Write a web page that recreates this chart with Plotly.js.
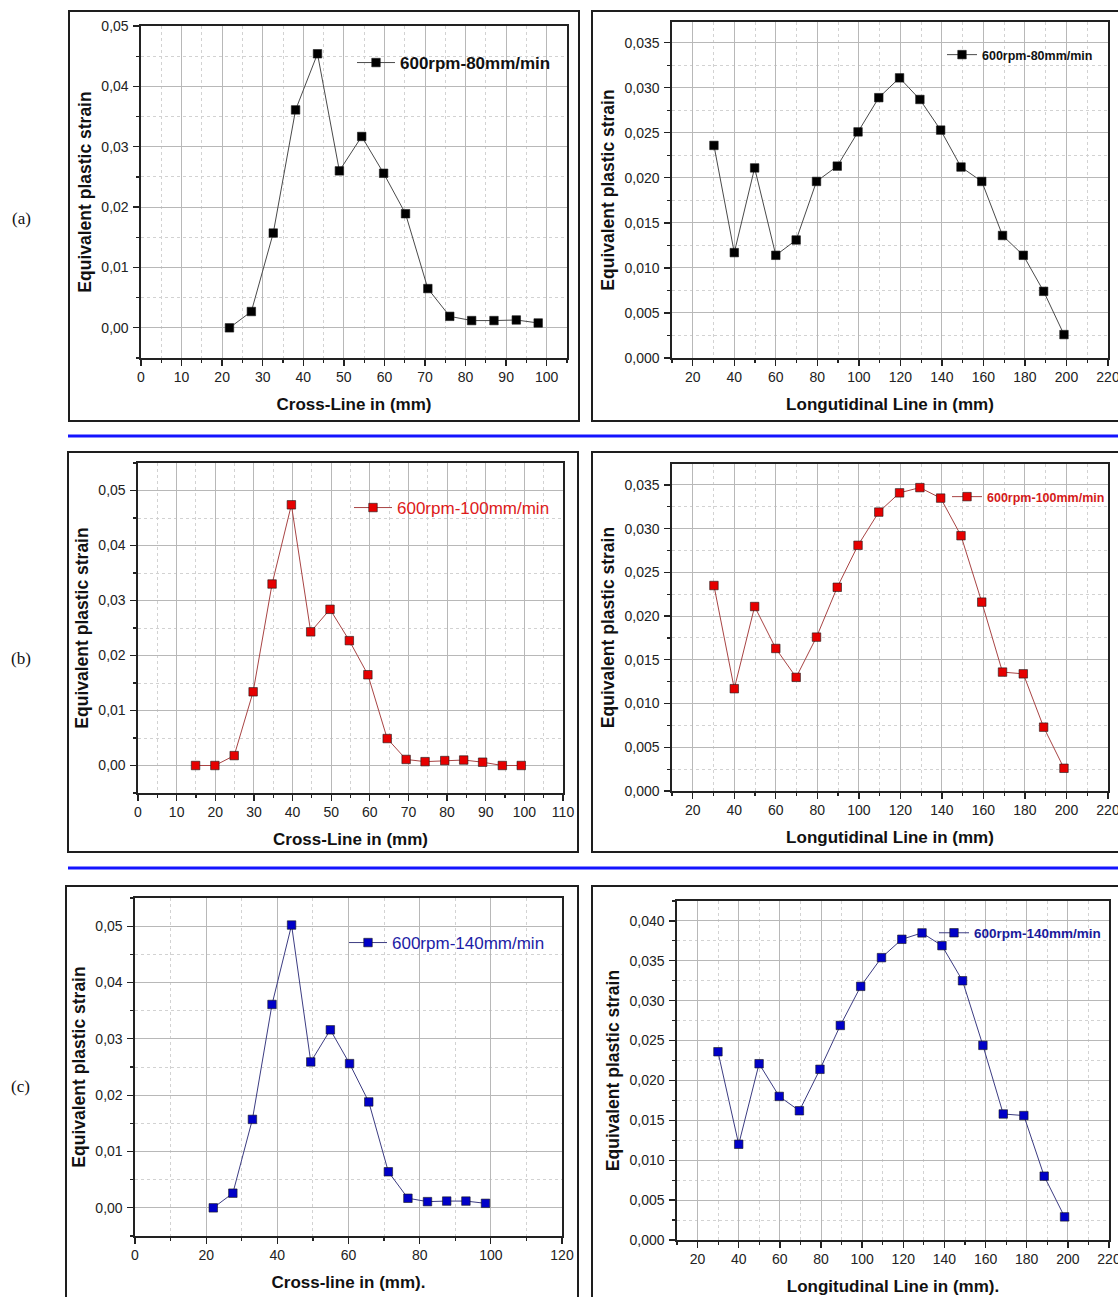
<!DOCTYPE html>
<html><head><meta charset="utf-8">
<script src="https://cdn.plot.ly/plotly-3.0.1.min.js"></script>
<style>html,body{margin:0;padding:0;background:#fff;} #chart{width:1118px;height:1297px;}</style>
</head><body><div id="chart"></div>
<script>
// ---------------- data ----------------
const crossA_x = [21.8, 27.2, 32.6, 38.1, 43.5, 48.9, 54.4, 59.8, 65.2, 70.7, 76.1, 81.5, 87.0, 92.5, 97.9];
const crossA_y = [0.0000, 0.0027, 0.0157, 0.0361, 0.0454, 0.0260, 0.0317, 0.0256, 0.0189, 0.0065, 0.0019, 0.0012, 0.0012, 0.0013, 0.0008];

const longA_x = [30.2, 40.0, 49.8, 60.0, 69.8, 79.6, 89.6, 99.6, 109.6, 119.6, 129.4, 139.4, 149.2, 159.2, 169.2, 179.2, 189.0, 198.8];
const longA_y = [0.0236, 0.0117, 0.0211, 0.0114, 0.0131, 0.0196, 0.0213, 0.0251, 0.0289, 0.0311, 0.0287, 0.0253, 0.0212, 0.0196, 0.0136, 0.0114, 0.0074, 0.0026];

const crossB_x = [14.9, 19.9, 24.9, 29.8, 34.7, 39.7, 44.7, 49.7, 54.7, 59.5, 64.5, 69.4, 74.3, 79.4, 84.3, 89.2, 94.3, 99.2];
const crossB_y = [0.0000, 0.0000, 0.0018, 0.0134, 0.0330, 0.0474, 0.0243, 0.0284, 0.0227, 0.0165, 0.0049, 0.0011, 0.0007, 0.0009, 0.0010, 0.0006, 0.0000, 0.0000];

const longB_x = [30.2, 40.0, 49.8, 60.0, 69.8, 79.6, 89.6, 99.6, 109.6, 119.6, 129.4, 139.4, 149.2, 159.2, 169.2, 179.2, 189.0, 198.8];
const longB_y = [0.0235, 0.0117, 0.0211, 0.0163, 0.0130, 0.0176, 0.0233, 0.0281, 0.0319, 0.0341, 0.0347, 0.0335, 0.0292, 0.0216, 0.0136, 0.0134, 0.0073, 0.0026];

const crossC_x = [22.0, 27.5, 33.0, 38.5, 44.0, 49.4, 54.9, 60.3, 65.7, 71.2, 76.7, 82.2, 87.6, 93.0, 98.5];
const crossC_y = [0.0000, 0.0026, 0.0157, 0.0361, 0.0502, 0.0259, 0.0316, 0.0256, 0.0188, 0.0064, 0.0017, 0.0011, 0.0012, 0.0012, 0.0008];

const longC_x = [29.9, 40.0, 49.9, 59.7, 69.5, 79.5, 89.4, 99.3, 109.4, 119.3, 129.1, 138.8, 148.8, 158.7, 168.6, 178.6, 188.5, 198.4];
const longC_y = [0.0236, 0.0120, 0.0221, 0.0180, 0.0162, 0.0214, 0.0269, 0.0318, 0.0354, 0.0377, 0.0385, 0.0369, 0.0325, 0.0244, 0.0158, 0.0156, 0.0080, 0.0029];

const seriesNames = ['600rpm-80mm/min', '600rpm-80mm/min', '600rpm-100mm/min', '600rpm-100mm/min', '600rpm-140mm/min', '600rpm-140mm/min'];
const xTitles = ['Cross-Line in (mm)', 'Longutidinal Line in (mm)', 'Cross-Line in (mm)', 'Longutidinal Line in (mm)', 'Cross-line in (mm).', 'Longitudinal Line in (mm).'];
const yTitle = 'Equivalent plastic strain';
const panelLabels = ['(a)', '(b)', '(c)'];

// ---------------- layout helpers ----------------
const W = 1118, H = 1297;
const FONT = 'Liberation Sans, Arial, sans-serif';
const fx = px => px / W;
const fy = py => 1 - py / H;

const panels = [
  {x: crossA_x, y: crossA_y, l:141, r:567, t:26, b:358, xr:[0,105], yr:[-0.005,0.05], xd:10, xm:5, yd:0.01, ym:0.005, yf:'.2f',
   mk:'#000000', ln:'#4a4a4a', leg:{x:352, y:63, size:17, bold:true, color:'#111', iw:38}},
  {x: longA_x, y: longA_y, l:672, r:1108, t:22, b:358, xr:[10,220], yr:[0,0.0373], xd:20, xm:10, yd:0.005, ym:0.0025, yf:'.3f',
   mk:'#000000', ln:'#4a4a4a', leg:{x:942, y:55, size:12.5, bold:true, color:'#111', iw:30}},
  {x: crossB_x, y: crossB_y, l:138, r:563, t:463, b:793, xr:[0,110], yr:[-0.005,0.055], xd:10, xm:5, yd:0.01, ym:0.005, yf:'.2f',
   mk:'#e60000', ln:'#a84444', leg:{x:349, y:508, size:17, bold:false, color:'#dd1a1a', iw:38}},
  {x: longB_x, y: longB_y, l:672, r:1108, t:464, b:791, xr:[10,220], yr:[0,0.0374], xd:20, xm:10, yd:0.005, ym:0.0025, yf:'.3f',
   mk:'#e60000', ln:'#a84444', leg:{x:947, y:497, size:12.5, bold:true, color:'#d41a1a', iw:30}},
  {x: crossC_x, y: crossC_y, l:135, r:562, t:898, b:1236, xr:[0,120], yr:[-0.005,0.055], xd:20, xm:10, yd:0.01, ym:0.005, yf:'.2f',
   mk:'#0000c8', ln:'#3c3c82', leg:{x:344, y:943, size:17, bold:false, color:'#1c1ca6', iw:38}},
  {x: longC_x, y: longC_y, l:677, r:1109, t:901, b:1240, xr:[10,220], yr:[0,0.0425], xd:20, xm:10, yd:0.005, ym:0.0025, yf:'.3f',
   mk:'#0000c8', ln:'#3c3c82', leg:{x:934, y:933, size:13.5, bold:true, color:'#1a1a9a', iw:30}}
];

const traces = [];
const layout = {
  width: W, height: H,
  margin: {l:0, r:0, t:0, b:0},
  paper_bgcolor: '#ffffff', plot_bgcolor: '#ffffff',
  separators: ', ',
  font: {family: FONT, color: '#222'},
  showlegend: true,
  shapes: [], annotations: []
};

const axId = (n) => n === 1 ? '' : String(n);

panels.forEach((p, i) => {
  const n = i + 1;
  const top = n + 6;
  const legName = n === 1 ? 'legend' : 'legend' + n;
  traces.push({
    type: 'scatter', mode: 'lines+markers',
    x: p.x, y: p.y, name: seriesNames[i],
    xaxis: 'x' + axId(n), yaxis: 'y' + axId(n),
    legend: legName,
    line: {color: p.ln, width: 1},
    marker: {symbol: 'square', size: 8.5, color: p.mk, line: {color: '#1a1a1a', width: 0.6}},
    hoverinfo: 'skip'
  });

  const tickfont = {family: FONT, size: 14, color: '#222'};
  const titlefont = {family: FONT, size: 17, color: '#111', weight: 'bold'};

  layout['xaxis' + axId(n)] = {
    domain: [fx(p.l), fx(p.r)], anchor: 'y' + axId(n), range: p.xr,
    tick0: 0, dtick: p.xd, ticks: 'outside', ticklen: 6, tickwidth: 1.3, tickcolor: '#222',
    showline: true, linecolor: '#222', linewidth: 1.6, mirror: true,
    showgrid: true, gridcolor: '#b8b8b8', gridwidth: 1, zeroline: false,
    minor: {dtick: p.xm, tick0: 0, ticks: 'outside', ticklen: 3.5, tickwidth: 1.2, tickcolor: '#222',
            showgrid: true, gridcolor: '#d2d2d2', griddash: 'dot', gridwidth: 1},
    tickfont: tickfont, ticklabelstandoff: 0, ticklabeloverflow: 'allow',
    title: {text: xTitles[i], font: titlefont, standoff: 13},
    fixedrange: true
  };
  layout['yaxis' + axId(n)] = {
    domain: [fy(p.b), fy(p.t)], anchor: 'x' + axId(n), range: p.yr,
    tick0: 0, dtick: p.yd, tickformat: p.yf, ticks: 'outside', ticklen: 6, tickwidth: 1.3, tickcolor: '#222',
    showline: true, linecolor: '#222', linewidth: 1.6, mirror: true,
    showgrid: true, gridcolor: '#b8b8b8', gridwidth: 1, zeroline: false,
    minor: {dtick: p.ym, tick0: 0, ticks: 'outside', ticklen: 3.5, tickwidth: 1.2, tickcolor: '#222',
            showgrid: true, gridcolor: '#d2d2d2', griddash: 'dot', gridwidth: 1},
    tickfont: tickfont, ticklabelstandoff: 2,
    title: {text: yTitle, font: Object.assign({}, titlefont, {size: 17.5}), standoff: 5},
    fixedrange: true
  };
  // mirrored inside ticks (top & right)
  layout['xaxis' + top] = {
    overlaying: 'x' + axId(n), side: 'top', anchor: 'y' + axId(n), range: p.xr,
    tick0: 0, dtick: p.xd, ticks: 'inside', ticklen: 6, tickwidth: 1.3, tickcolor: '#222',
    minor: {dtick: p.xm, tick0: 0, ticks: 'inside', ticklen: 3.5, tickwidth: 1.2, tickcolor: '#222', showgrid: false},
    showticklabels: false, showgrid: false, showline: false, zeroline: false, fixedrange: true
  };
  layout['yaxis' + top] = {
    overlaying: 'y' + axId(n), side: 'right', anchor: 'x' + axId(n), range: p.yr,
    tick0: 0, dtick: p.yd, ticks: 'inside', ticklen: 6, tickwidth: 1.3, tickcolor: '#222',
    minor: {dtick: p.ym, tick0: 0, ticks: 'inside', ticklen: 3.5, tickwidth: 1.2, tickcolor: '#222', showgrid: false},
    showticklabels: false, showgrid: false, showline: false, zeroline: false, fixedrange: true
  };

  layout[legName] = {
    x: fx(p.leg.x), y: fy(p.leg.y), xanchor: 'left', yanchor: 'middle',
    bgcolor: 'rgba(0,0,0,0)', borderwidth: 0, itemwidth: p.leg.iw,
    font: {family: FONT, size: p.leg.size, color: p.leg.color, weight: p.leg.bold ? 'bold' : 'normal'}
  };
});

// frames round each panel
const frames = [[69, 11, 579, 421], [592, 11, 1125, 421], [68, 452, 578, 852], [592, 452, 1125, 852], [66, 886, 578, 1305], [592, 886, 1125, 1305]];
frames.forEach(f => {
  layout.shapes.push({type: 'rect', xref: 'paper', yref: 'paper', x0: fx(f[0]), x1: fx(f[2]), y0: fy(f[3]), y1: fy(f[1]),
    line: {color: '#1e1e1e', width: 2}, fillcolor: 'rgba(0,0,0,0)', layer: 'below'});
});
// blue separators
[436, 868].forEach(yy => {
  layout.shapes.push({type: 'line', xref: 'paper', yref: 'paper', x0: fx(68), x1: 1, y0: fy(yy), y1: fy(yy),
    line: {color: '#1414ff', width: 3}});
});
// panel labels
[[21, 219], [21, 658], [20, 1086]].forEach((pos, k) => {
  layout.annotations.push({xref: 'paper', yref: 'paper', x: fx(pos[0]), y: fy(pos[1]), xanchor: 'center', yanchor: 'middle',
    text: panelLabels[k], showarrow: false, font: {family: 'Liberation Serif, Times New Roman, serif', size: 17, color: '#111'}});
});

Plotly.newPlot('chart', traces, layout, {displayModeBar: false, staticPlot: true});
</script>
</body></html>
